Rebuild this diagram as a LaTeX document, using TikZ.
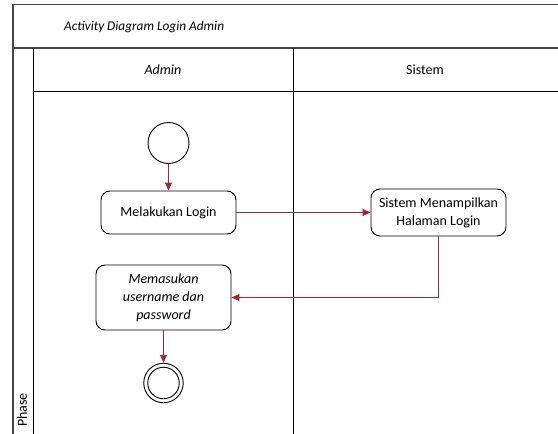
\documentclass[tikz,border=0pt]{standalone}
\usepackage{fontspec}
\setmainfont{Carlito}
\usepackage{tikz}
\usetikzlibrary{arrows.meta}
\definecolor{flowred}{RGB}{163,38,56}
\definecolor{framegrey}{RGB}{70,70,70}

\begin{document}
\begin{tikzpicture}
  [x=1pt, y=-1pt,
    frame/.style={draw=framegrey, line width=1.3pt},
    lane/.style={draw=black, line width=0.9pt},
    action/.style={rectangle, rounded corners=9pt, draw=black, line width=0.9pt, minimum width=135pt, align=center, inner sep=2pt, font=\fontsize{14}{18}\selectfont},
    startnode/.style={circle, draw=black, line width=0.9pt, minimum size=41pt, inner sep=0pt},
    endnode/.style={circle, draw=black, line width=0.9pt, minimum size=39.5pt, inner sep=0pt},
    endcore/.style={circle, draw=black, line width=0.9pt, minimum size=31.5pt, inner sep=0pt},
    label/.style={font=\fontsize{14}{17}\selectfont, inner sep=0pt},
    flow/.style={draw=flowred, line width=0.9pt, -{Triangle[length=8pt, width=7pt]}}
  ]
  \useasboundingbox (0,0) rectangle (558,434);

  % swimlane frame
  \draw[frame] (13,434) -- (13,4.7) -- (558,4.7);
  \draw[frame] (13,48) -- (558,48);
  \draw[lane] (33,48) -- (33,434);
  \draw[lane] (293,48) -- (293,434);
  \draw[lane] (33,91) -- (558,91);

  \node[label, anchor=west, font=\fontsize{13.3}{16}\selectfont] (title) at (64,27) {\itshape Activity Diagram Login Admin};
  \node[label] (hadmin) at (163,70) {\itshape Admin};
  \node[label] (hsistem) at (425,70) {Sistem};
  \node[label, rotate=90] (phase) at (22,410) {Phase};

  % activities
  \node[startnode] (start) at (168.5,143) {};
  \node[action, minimum height=43pt] (login) at (168.5,212.5) {Melakukan Login};
  \node[action, minimum height=47pt] (tampil) at (438.5,212.5) {Sistem Menampilkan\\Halaman Login};
  \node[action, minimum height=65pt] (input) at (163.5,297.5) {\itshape Memasukan\\\itshape username dan\\\itshape password};
  \node[endnode] (end) at (163.5,383) {};
  \node[endcore] (endin) at (end) {};

  % transitions
  \draw[flow] (start) -- (login);
  \draw[flow] (login) -- (tampil);
  \draw[flow] (tampil.south) |- (input.east);
  \draw[flow] (input) -- (end);

\end{tikzpicture}
\end{document}
